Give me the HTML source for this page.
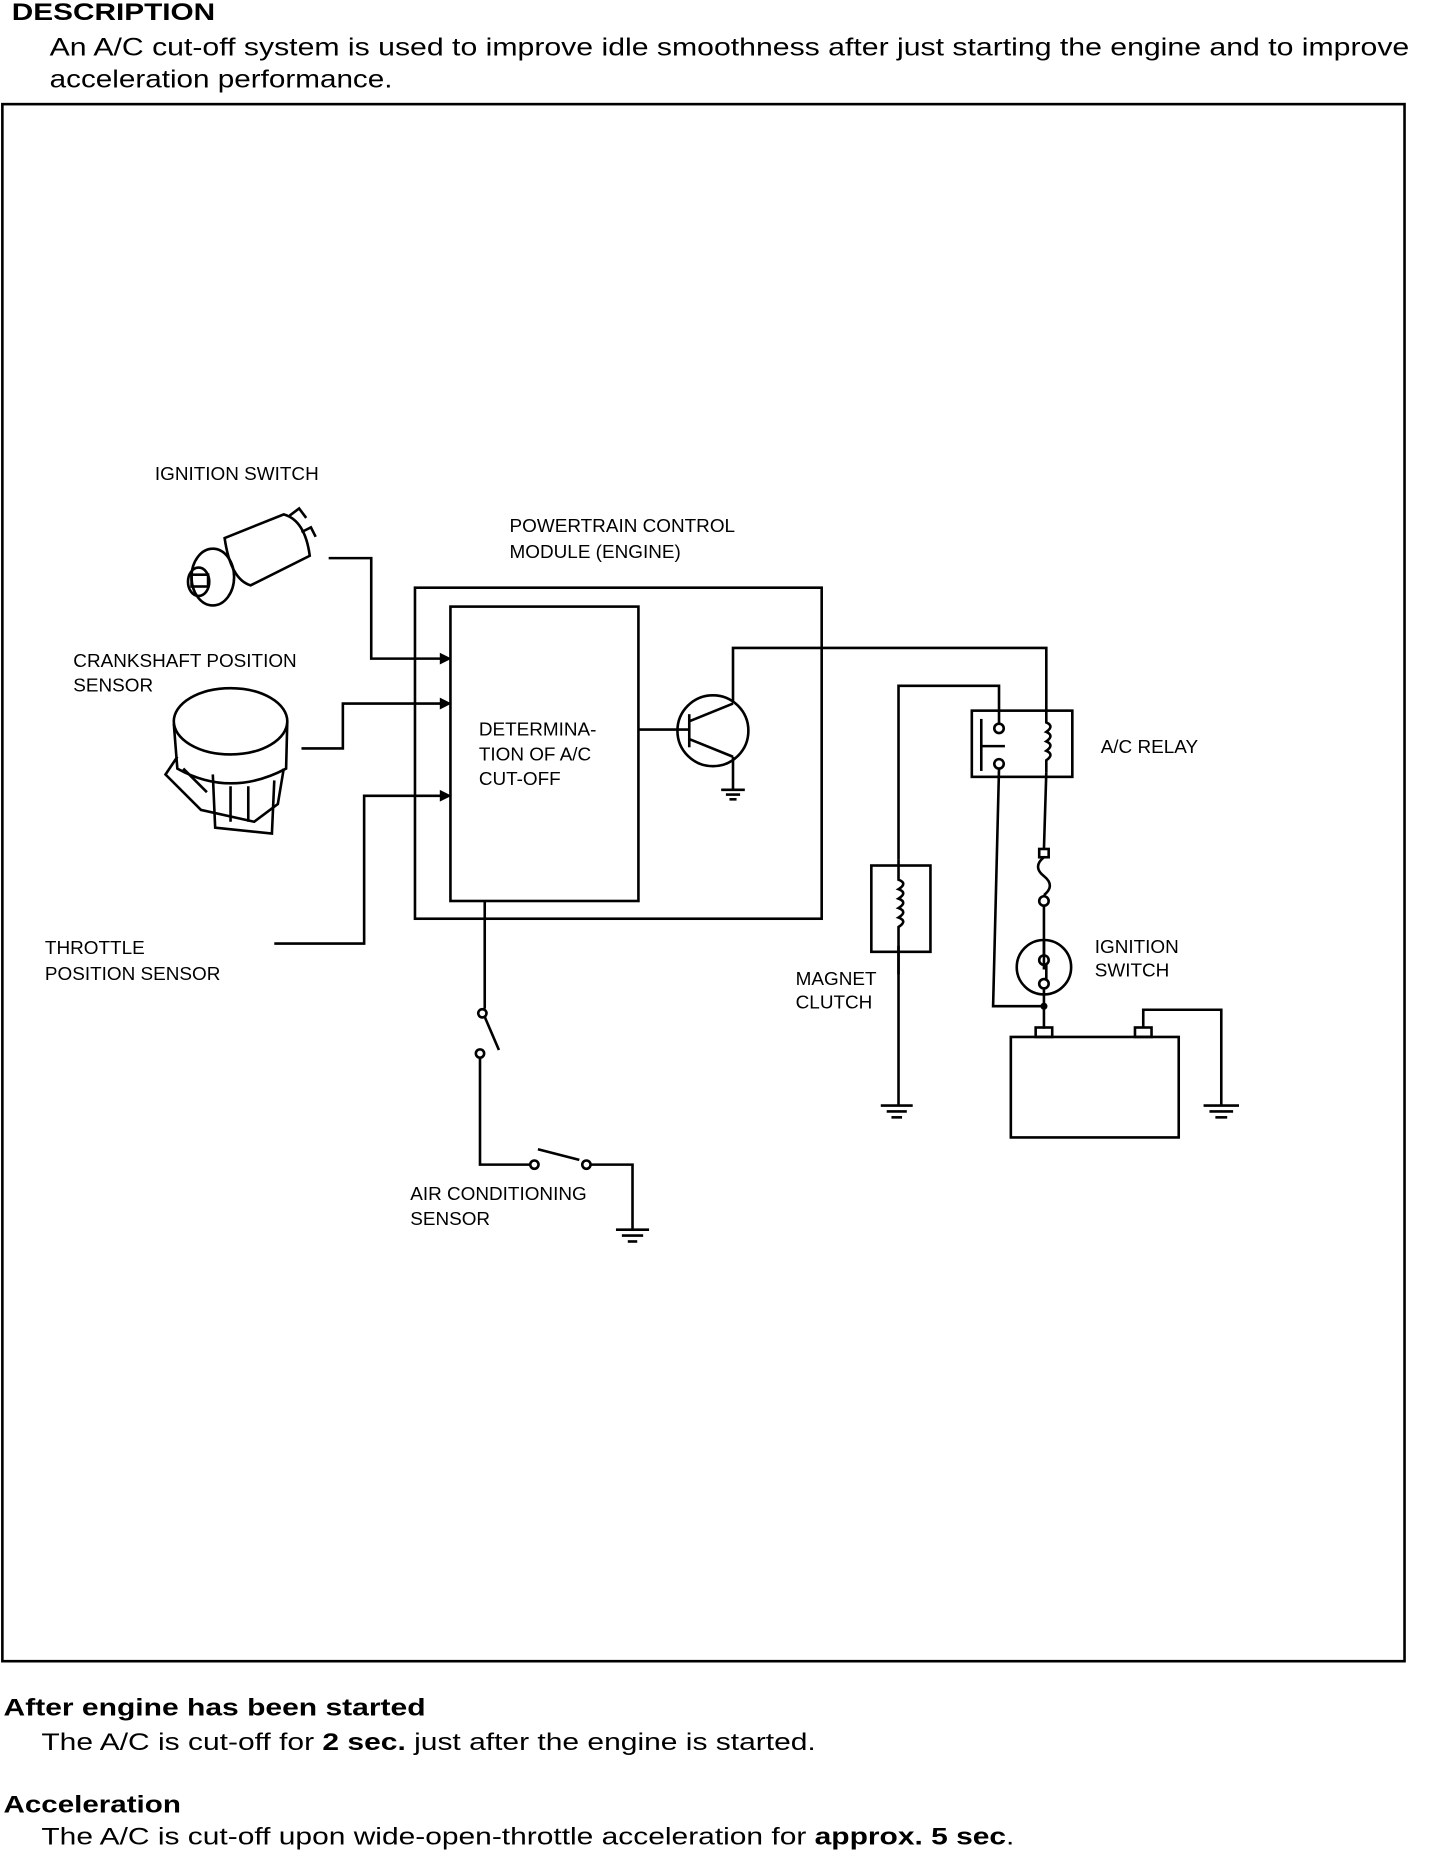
<!DOCTYPE html>
<html><head><meta charset="utf-8"><style>html,body{margin:0;padding:0;background:#fff}svg{display:block}</style></head>
<body>
<svg width="1440" height="1854" viewBox="0 0 1218 1568" xmlns="http://www.w3.org/2000/svg" font-family="Liberation Sans, Arial, sans-serif">
<rect width="1218" height="1568" fill="#fff"/>
<g fill="#000">
<text x="10" y="17" font-size="20" font-weight="bold" textLength="172" lengthAdjust="spacingAndGlyphs">DESCRIPTION</text>
<text x="42" y="47" font-size="21" textLength="1150" lengthAdjust="spacingAndGlyphs">An A/C cut-off system is used to improve idle smoothness after just starting the engine and to improve</text>
<text x="42" y="74" font-size="21" textLength="290" lengthAdjust="spacingAndGlyphs">acceleration performance.</text>
<text x="3" y="1451" font-size="20" font-weight="bold" textLength="357" lengthAdjust="spacingAndGlyphs">After engine has been started</text>
<text x="35" y="1480" font-size="20" textLength="655" lengthAdjust="spacingAndGlyphs">The A/C is cut-off for <tspan font-weight="bold">2 sec.</tspan> just after the engine is started.</text>
<text x="3" y="1533" font-size="20" font-weight="bold" textLength="150" lengthAdjust="spacingAndGlyphs">Acceleration</text>
<text x="35" y="1560" font-size="20" textLength="823" lengthAdjust="spacingAndGlyphs">The A/C is cut-off upon wide-open-throttle acceleration for <tspan font-weight="bold">approx. 5 sec</tspan>.</text>
<g font-size="16">
<text x="131" y="406">IGNITION SWITCH</text>
<text x="431" y="450">POWERTRAIN CONTROL</text>
<text x="431" y="472">MODULE (ENGINE)</text>
<text x="62" y="564">CRANKSHAFT POSITION</text>
<text x="62" y="585">SENSOR</text>
<text x="38" y="807">THROTTLE</text>
<text x="38" y="829">POSITION SENSOR</text>
<text x="405" y="622">DETERMINA-</text>
<text x="405" y="643">TION OF A/C</text>
<text x="405" y="664">CUT-OFF</text>
<text x="931" y="637">A/C RELAY</text>
<text x="673" y="833">MAGNET</text>
<text x="673" y="853">CLUTCH</text>
<text x="926" y="806">IGNITION</text>
<text x="926" y="826">SWITCH</text>
<text x="347" y="1015">AIR CONDITIONING</text>
<text x="347" y="1036">SENSOR</text>
</g>
</g>
<g fill="none" stroke="#000" stroke-width="2.2">
<rect x="2" y="88" width="1186" height="1317"/>
<path d="M190 455 L240 435 Q258 440 262 470 L212 495 Q195 490 190 455Z"/>
<ellipse cx="180" cy="488" rx="18" ry="24"/>
<ellipse cx="168" cy="492" rx="9" ry="12"/>
<rect x="162" y="486" width="14" height="10"/>
<path d="M245 436 l8 -6 l6 8 M255 450 l8 -4 l4 8"/>
<ellipse cx="195" cy="610" rx="48" ry="28"/>
<path d="M147 612 L150 650 Q195 675 242 650 L243 610"/>
<path d="M150 640 L140 655 L170 685 L215 695 L235 680 L240 650"/>
<path d="M180 655 L182 700 L230 705 L232 660"/>
<path d="M155 650 l20 20 M195 665 v30 M210 665 v30"/>
<polyline points="278,472 314,472 314,557 376,557"/>
<polyline points="255,633 290,633 290,595 376,595"/>
<polyline points="232,798 308,798 308,673 376,673"/>
<rect x="351" y="497" width="344" height="280"/>
<rect x="381" y="513" width="159" height="249"/>
<circle cx="603" cy="618" r="30"/>
<line x1="540" y1="617" x2="583" y2="617"/>
<line x1="583" y1="604" x2="583" y2="632"/>
<line x1="583" y1="610" x2="620" y2="595"/>
<line x1="583" y1="625" x2="620" y2="640"/>
<polyline points="620,595 620,548 885,548 885,603"/>
<line x1="620" y1="640" x2="620" y2="668"/>
<polyline points="410,762 410,853"/>
<circle cx="408" cy="857" r="3.5"/>
<line x1="410" y1="860" x2="422" y2="888"/>
<circle cx="406" cy="891" r="3.5"/>
<polyline points="406,895 406,985 448,985"/>
<circle cx="452" cy="985" r="3.5"/>
<line x1="455" y1="972" x2="490" y2="981"/>
<circle cx="496" cy="985" r="3.5"/>
<polyline points="500,985 535,985 535,1040"/>
<rect x="822" y="601" width="85" height="56"/>
<polyline points="760,727 760,580 845,580 845,612"/>
<circle cx="845" cy="616" r="4"/>
<circle cx="845" cy="646" r="4"/>
<line x1="830" y1="608" x2="830" y2="652"/>
<line x1="830" y1="631" x2="850" y2="631"/>
<path d="M885 603 v8 q7 3 0 8 q7 3 0 8 q7 3 0 8 q7 3 0 8 v10"/>
<polyline points="845,650 840,851 883,851"/>
<line x1="885" y1="653" x2="883" y2="718"/>
<rect x="879" y="718" width="8" height="7"/>
<path d="M883 725 q-10 8 0 16 q10 8 0 16"/>
<circle cx="883" cy="762" r="4"/>
<line x1="883" y1="766" x2="883" y2="820"/>
<circle cx="883" cy="818" r="23"/>
<circle cx="883" cy="812" r="4"/>
<circle cx="883" cy="832" r="4"/>
<line x1="883" y1="796" x2="883" y2="808"/>
<line x1="885" y1="815" x2="885" y2="829"/>
<line x1="883" y1="836" x2="883" y2="870"/>
<rect x="737" y="732" width="50" height="73"/>
<path d="M760 727 v17 q8 3 0 8 q8 3 0 8 q8 3 0 8 q8 3 0 8 q8 3 0 8 v40"/>
<line x1="760" y1="800" x2="760" y2="935"/>
<rect x="855" y="877" width="142" height="85"/>
<rect x="876" y="869" width="14" height="8"/>
<rect x="960" y="869" width="14" height="8"/>
<polyline points="967,869 967,854 1033,854 1033,935"/>
</g>
<g stroke="#000" stroke-width="2.2">
<line x1="610" y1="668" x2="630" y2="668"/><line x1="614" y1="672" x2="626" y2="672"/><line x1="617" y1="676" x2="623" y2="676"/>
<line x1="745" y1="935" x2="772" y2="935"/><line x1="750" y1="940" x2="767" y2="940"/><line x1="754" y1="945" x2="763" y2="945"/>
<line x1="1018" y1="935" x2="1048" y2="935"/><line x1="1023" y1="940" x2="1043" y2="940"/><line x1="1028" y1="945" x2="1038" y2="945"/>
<line x1="521" y1="1040" x2="549" y2="1040"/><line x1="526" y1="1045" x2="544" y2="1045"/><line x1="531" y1="1050" x2="539" y2="1050"/>
</g>
<g fill="#000">
<path d="M372 552 L382 557 L372 562Z"/>
<path d="M372 590 L382 595 L372 600Z"/>
<path d="M372 668 L382 673 L372 678Z"/>
<circle cx="883" cy="851" r="3"/>
</g>
</svg>
</body></html>
